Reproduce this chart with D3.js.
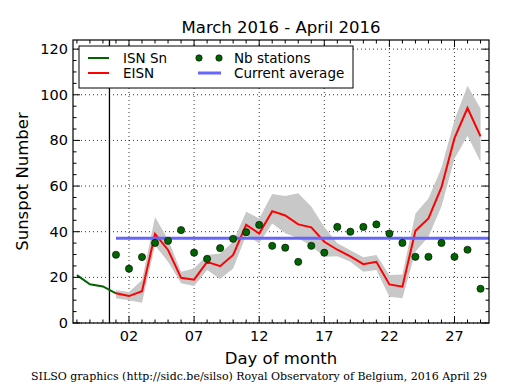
<!DOCTYPE html>
<html><head><meta charset="utf-8">
<script src="https://cdn.jsdelivr.net/npm/d3@7"></script>
<style>body{margin:0;background:#fff}svg{display:block}text{font-family:"DejaVu Sans",sans-serif}</style>
</head><body>
<script>
// ---- data ----
const isnDays = [-2, -1, 0, 1];
const isnValues = [21, 17, 16, 13];
const days = [1,2,3,4,5,6,7,8,9,10,11,12,13,14,15,16,17,18,19,20,21,22,23,24,25,26,27,28,29];
const eisn = [13,11.8,13.9,39,32,19.8,19,26.8,24.9,29.8,43,39.2,49,47.1,43.2,41.9,35.6,32.1,29.2,25.8,26.8,16.9,15.9,40.4,45.8,59.5,81,94.2,81.8];
const eisnUpper = [14.4,13.6,18.8,46.5,36.6,22.5,23.9,29.8,30.5,35.6,48.7,45.8,56.5,55.6,56.8,51,42.1,34.9,31.9,28.8,29.8,21,21.3,48,54.6,68,89,104,94];
const eisnLower = [10.8,10,8.9,34.1,26.8,17.4,16.2,23.2,19.3,23.9,38.5,34.9,43.6,39.3,37.1,33.7,29,29.3,26.8,22.5,23.2,11.5,10.8,31.2,37.8,51,72,82,70.6];
const nbStations = [29.9,23.8,28.9,35.1,36,40.7,30.8,28.1,32.8,36.9,39.8,43,33.8,33,26.8,33.8,30.8,42.1,40,42.1,43.2,39.2,35.1,29,29,35.1,29,32.1,15];
const currentAverage = 37.1;
const avgRange = [1, 29.65];
const monthBoundary = 0.5;
const xTickValues = [2,7,12,17,22,27];
const xTickLabels = ["02","07","12","17","22","27"];
const yTickValues = [0,20,40,60,80,100,120];
const title = "March 2016 - April 2016";
const footer = "SILSO graphics (http://sidc.be/silso) Royal Observatory of Belgium, 2016 April 29";

// ---- layout ----
const W = 515, H = 390;
const L = 73, R = 489, T = 40, B = 323;
const svg = d3.select("body").append("svg").attr("width", W).attr("height", H);
const x = d3.scaleLinear().domain([-2.3, 29.65]).range([L, R]);
const y = d3.scaleLinear().domain([0, 124]).range([B, T]);

const clip = svg.append("clipPath").attr("id","c").append("rect").attr("x",L).attr("y",T).attr("width",R-L).attr("height",B-T);

// grid
const grid = svg.append("g").attr("stroke","#000").attr("stroke-width",0.8).attr("stroke-dasharray","1,3");
xTickValues.forEach(v => grid.append("line").attr("x1",x(v)).attr("x2",x(v)).attr("y1",T).attr("y2",B));
yTickValues.forEach(v => grid.append("line").attr("x1",L).attr("x2",R).attr("y1",y(v)).attr("y2",y(v)));

const plot = svg.append("g").attr("clip-path","url(#c)");
// band
const bandData = days.map((d,i)=>({d, lo: eisnLower[i], hi: eisnUpper[i]}));
plot.append("path").datum(bandData)
  .attr("d", d3.area().x(p=>x(p.d)).y0(p=>y(p.lo)).y1(p=>y(p.hi)))
  .attr("fill","#c8c8c8").attr("stroke","none");
// month boundary
plot.append("line").attr("x1",x(monthBoundary)).attr("x2",x(monthBoundary)).attr("y1",T).attr("y2",B)
  .attr("stroke","#000").attr("stroke-width",1.3);
// ISN
plot.append("path").datum(isnDays.map((d,i)=>[d,isnValues[i]]))
  .attr("d", d3.line().x(p=>x(p[0])).y(p=>y(p[1])))
  .attr("fill","none").attr("stroke","#006400").attr("stroke-width",2);
// EISN
plot.append("path").datum(days.map((d,i)=>[d,eisn[i]]))
  .attr("d", d3.line().x(p=>x(p[0])).y(p=>y(p[1])))
  .attr("fill","none").attr("stroke","#ff0000").attr("stroke-width",2);
// current average
plot.append("line").attr("x1",x(avgRange[0])).attr("x2",x(avgRange[1])).attr("y1",y(currentAverage)).attr("y2",y(currentAverage))
  .attr("stroke","#6666ff").attr("stroke-width",3);
// stations
plot.selectAll("circle.st").data(days).enter().append("circle")
  .attr("cx", d=>x(d)).attr("cy",(d,i)=>y(nbStations[i])).attr("r",3.6)
  .attr("fill","#006400").attr("stroke","#000").attr("stroke-width",0.6);

// ticks (inside on all sides)
const tk = svg.append("g").attr("stroke","#000").attr("stroke-width",1);
const minorX = d3.range(-2, 30, 1);
minorX.forEach(v => {
  const len = xTickValues.includes(v) ? 7 : 3.5;
  tk.append("line").attr("x1",x(v)).attr("x2",x(v)).attr("y1",B).attr("y2",B-len);
  tk.append("line").attr("x1",x(v)).attr("x2",x(v)).attr("y1",T).attr("y2",T+len);
});
d3.range(0, 125, 5).forEach(v => {
  const len = v % 20 === 0 ? 7 : 3.5;
  tk.append("line").attr("x1",L).attr("x2",L+len).attr("y1",y(v)).attr("y2",y(v));
  tk.append("line").attr("x1",R).attr("x2",R-len).attr("y1",y(v)).attr("y2",y(v));
});
// frame
svg.append("rect").attr("x",L).attr("y",T).attr("width",R-L).attr("height",B-T)
  .attr("fill","none").attr("stroke","#000").attr("stroke-width",1.2);

// tick labels
xTickValues.forEach((v,i) => svg.append("text").attr("x",x(v)).attr("y",B+18).attr("text-anchor","middle")
  .attr("font-size",14.5).text(xTickLabels[i]));
yTickValues.forEach(v => svg.append("text").attr("x",L-5).attr("y",y(v)+5).attr("text-anchor","end")
  .attr("font-size",14.5).text(v));

// labels
svg.append("text").attr("x",(L+R)/2).attr("y",33).attr("text-anchor","middle").attr("font-size",16.5).text(title);
svg.append("text").attr("x",(L+R)/2).attr("y",364).attr("text-anchor","middle").attr("font-size",16.5).text("Day of month");
svg.append("text").attr("transform",`translate(28,${(T+B)/2}) rotate(-90)`).attr("text-anchor","middle").attr("font-size",16.5).text("Sunspot Number");
svg.append("text").attr("x",259).attr("y",380).attr("text-anchor","middle").attr("font-size",11)
  .style("font-family","'DejaVu Serif',serif").text(footer);

// legend
const lg = svg.append("g");
lg.append("rect").attr("x",79).attr("y",46).attr("width",274).attr("height",42).attr("fill","#fff").attr("stroke","#000").attr("stroke-width",1);
lg.append("line").attr("x1",88).attr("x2",109).attr("y1",58).attr("y2",58).attr("stroke","#006400").attr("stroke-width",2);
lg.append("text").attr("x",123).attr("y",63).attr("font-size",13.5).text("ISN Sn");
lg.append("line").attr("x1",88).attr("x2",109).attr("y1",73).attr("y2",73).attr("stroke","#ff0000").attr("stroke-width",2);
lg.append("text").attr("x",123).attr("y",78).attr("font-size",13.5).text("EISN");
[199,219].forEach(cx => lg.append("circle").attr("cx",cx).attr("cy",58).attr("r",3.2).attr("fill","#006400").attr("stroke","#000").attr("stroke-width",0.6));
lg.append("text").attr("x",234).attr("y",63).attr("font-size",13.5).text("Nb stations");
lg.append("line").attr("x1",198).attr("x2",221).attr("y1",73).attr("y2",73).attr("stroke","#6666ff").attr("stroke-width",3);
lg.append("text").attr("x",234).attr("y",78).attr("font-size",13.5).text("Current average");
</script>
</body></html>
